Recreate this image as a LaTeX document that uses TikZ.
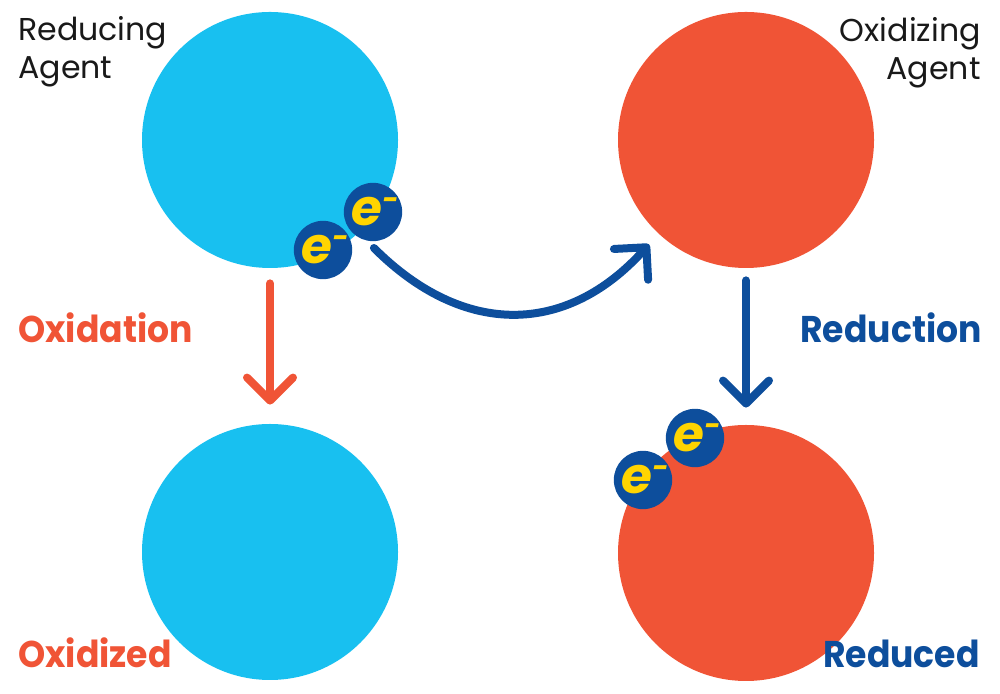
\documentclass[tikz,border=0pt]{standalone}
\usepackage{fontspec}
\setmainfont{Poppins}
\newfontfamily\steplabelfont[FakeStretch=0.93]{Poppins}
\usetikzlibrary{arrows.meta}
\definecolor{ballblue}{HTML}{18C0F0}
\definecolor{ballred}{HTML}{F05436}
\definecolor{navy}{HTML}{0D4E9C}
\definecolor{eyellow}{HTML}{FFD400}
\begin{document}
\begin{tikzpicture}[x=0.5pt,y=0.5pt,
    ball/.style={circle, minimum size=128pt, inner sep=0pt},
    electron/.style={circle, fill=navy, minimum size=28pt, inner sep=0pt, text=eyellow,
        font=\fontsize{25}{25}\selectfont\bfseries\itshape},
    label/.style={inner sep=0pt, font=\fontsize{15.8}{19}\selectfont, text=black!90},
    step label/.style={inner sep=0pt, font=\steplabelfont\fontsize{18.6}{20}\selectfont\bfseries},
    flow/.style={line width=4pt, line cap=round, -{Straight Barb[length=11.5pt,width=23pt,round]}}]
            \useasboundingbox (0,0) rectangle (1000,694);
            \node[ball, fill=ballblue] (reducer) at (270,554){};
            \node[ball, fill=ballred] (oxidizer) at (746,554){};
            \node[ball, fill=ballblue] (oxidized) at (270,142){};
            \node[ball, fill=ballred] (reduced) at (746,141){};
            \node[electron] (e1) at (323,444){\hspace{2pt}e\raisebox{8pt}{\fontsize{14}{14}\selectfont -}};
            \node[electron] (e2) at (373,482){\hspace{2pt}e\raisebox{8pt}{\fontsize{14}{14}\selectfont -}};
            \node[electron] (e3) at (643,214){\hspace{2pt}e\raisebox{8pt}{\fontsize{14}{14}\selectfont -}};
            \node[electron] (e4) at (695,256){\hspace{2pt}e\raisebox{8pt}{\fontsize{14}{14}\selectfont -}};
            \draw[flow, ballred, shorten <=7.5pt, shorten >=9.5pt] (reducer.south) -- (oxidized.north);
            \draw[flow, navy, shorten <=6pt, shorten >=8.5pt] (oxidizer.south) -- (reduced.north);
            \draw[flow, navy, shorten <=5pt, shorten >=7pt] (e2.-102) to[out=-45, in=-132, looseness=1.2] (oxidizer.-133);
            \node[label, anchor=base west, align=left] (reducing) at (18,615){Reducing\\Agent};
            \node[label, anchor=base east, align=right] (oxidizing) at (981,614){Oxidizing\\Agent};
            \node[step label, anchor=base west, text=ballred] (oxidation) at (18,351){Oxidation};
            \node[step label, anchor=base east, text=navy] (reduction) at (982,351){Reduction};
            \node[step label, anchor=base west, text=ballred] (oxidizedtext) at (18,26){Oxidized};
            \node[step label, anchor=base east, text=navy] (reducedtext) at (980,26){Reduced};
\end{tikzpicture}
\end{document}
